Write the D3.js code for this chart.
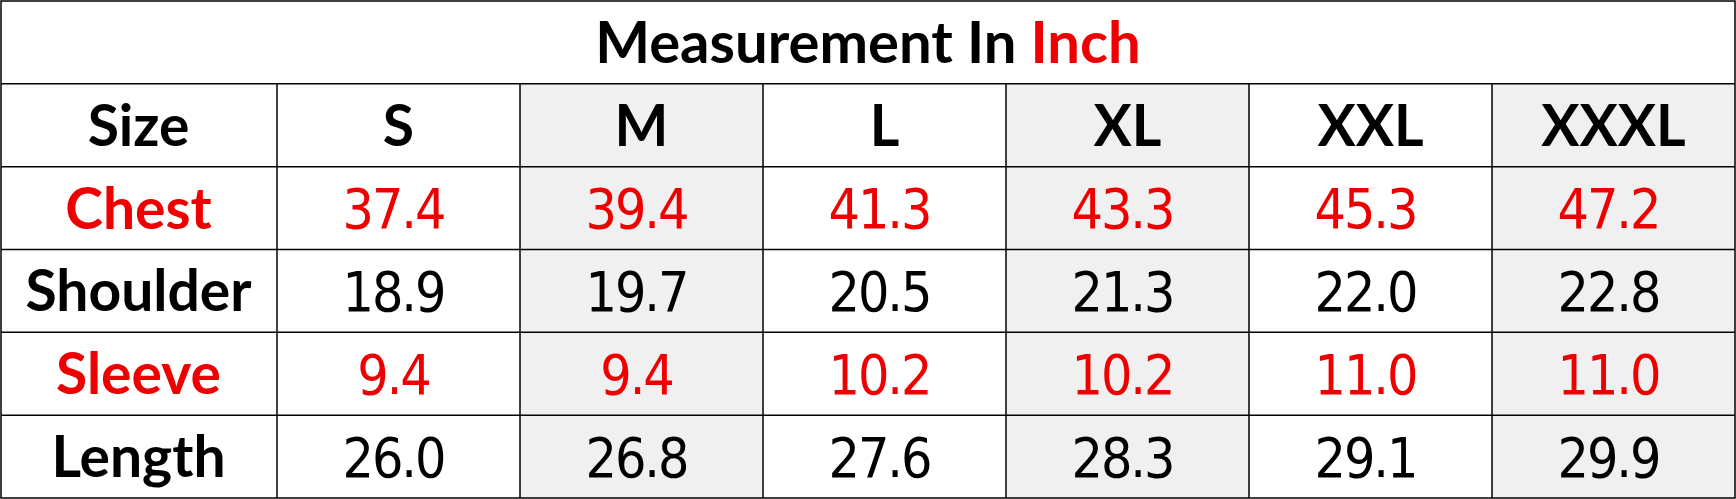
<!DOCTYPE html>
<html>
<head>
<meta charset="utf-8">
<script src="https://cdn.jsdelivr.net/npm/d3@7"></script>
<style>
body { margin: 0; background: #fff; }
</style>
</head>
<body>
<div id="table"></div>
<script>

var width = 1736, height = 499;

var sizes = ["S", "M", "L", "XL", "XXL", "XXXL"];
var measures = ["Chest", "Shoulder", "Sleeve", "Length"];
var chest = [37.4, 39.4, 41.3, 43.3, 45.3, 47.2];
var shoulder = [18.9, 19.7, 20.5, 21.3, 22.0, 22.8];
var sleeve = [9.4, 9.4, 10.2, 10.2, 11.0, 11.0];
var lengthVals = [26.0, 26.8, 27.6, 28.3, 29.1, 29.9];
var redRows = ["Chest", "Sleeve"];

var values = [chest, shoulder, sleeve, lengthVals];

var red = "#ee0000";
var labelFont = "Lato, 'Noto Sans', sans-serif";
var numFont = "'DejaVu Sans Condensed', 'DejaVu Sans', sans-serif";
var fmt = d3.format(".1f");

var svg = d3.select("#table")
	.append("svg")
	.attr("width", width)
	.attr("height", height)
	.style("display", "block");

// rows: title, header, then one per measure
var y = d3.scaleBand()
	.domain(["title", "Size"].concat(measures))
	.range([1, 498]);

var x = d3.scaleBand()
	.domain(sizes)
	.range([277, 1735]);

var bodyTop = y("Size");

// grey shading on every other size column
svg.selectAll(".shade")
	.data(sizes.filter(function(d, i) { return i % 2 == 1; }))
	.enter().append("rect")
	.attr("class", "shade")
	.attr("x", function(d) { return x(d); })
	.attr("y", bodyTop)
	.attr("width", x.bandwidth())
	.attr("height", 498 - bodyTop)
	.style("fill", "#f0f0f0");

// title
var title = svg.append("text")
	.attr("x", width / 2)
	.attr("y", y("title") + y.bandwidth() / 2 + 20.5)
	.attr("text-anchor", "middle")
	.style("font-family", labelFont)
	.style("font-weight", "bold")
	.style("font-size", "58px")
	.style("fill", "#000");
title.append("tspan").text("Measurement In ");
title.append("tspan").style("fill", red).text("Inch");

// header row
svg.append("text")
	.attr("x", 277 / 2)
	.attr("y", y("Size") + y.bandwidth() / 2 + 20.5)
	.attr("text-anchor", "middle")
	.style("font-family", labelFont)
	.style("font-weight", "bold")
	.style("font-size", "57px")
	.text("Size");

svg.selectAll(".head")
	.data(sizes)
	.enter().append("text")
	.attr("class", "head")
	.attr("x", function(d) { return x(d) + x.bandwidth() / 2; })
	.attr("y", y("Size") + y.bandwidth() / 2 + 20.5)
	.attr("text-anchor", "middle")
	.style("font-family", labelFont)
	.style("font-weight", "bold")
	.style("font-size", "57px")
	.text(function(d) { return d; });

// measure labels
svg.selectAll(".label")
	.data(measures)
	.enter().append("text")
	.attr("class", "label")
	.attr("x", 277 / 2)
	.attr("y", function(d) { return y(d) + y.bandwidth() / 2 + 20.5; })
	.attr("text-anchor", "middle")
	.style("font-family", labelFont)
	.style("font-weight", "bold")
	.style("font-size", "57px")
	.style("fill", function(d) { return redRows.indexOf(d) >= 0 ? red : "#000"; })
	.text(function(d) { return d; });

// values
var row = svg.selectAll(".row")
	.data(measures)
	.enter().append("g")
	.attr("class", "row");

row.selectAll(".val")
	.data(function(m, i) {
		return values[i].map(function(v, j) { return {m: m, size: sizes[j], v: v}; });
	})
	.enter().append("text")
	.attr("class", "val")
	.attr("x", function(d) { return x(d.size) + x.bandwidth() / 2 - 5; })
	.attr("y", function(d) { return y(d.m) + y.bandwidth() / 2 + 20; })
	.attr("text-anchor", "middle")
	.style("font-family", numFont)
	.style("font-size", "55px")
	.style("letter-spacing", "-2px")
	.style("fill", function(d) { return redRows.indexOf(d.m) >= 0 ? red : "#000"; })
	.text(function(d) { return fmt(d.v); });

// grid lines
var hLines = y.domain().slice(1);
svg.selectAll(".hline")
	.data(hLines)
	.enter().append("line")
	.attr("class", "hline")
	.attr("x1", 1)
	.attr("x2", 1735)
	.attr("y1", function(d) { return y(d); })
	.attr("y2", function(d) { return y(d); })
	.style("stroke", "#000")
	.style("stroke-width", 1.5);

svg.selectAll(".vline")
	.data(sizes)
	.enter().append("line")
	.attr("class", "vline")
	.attr("x1", function(d) { return x(d); })
	.attr("x2", function(d) { return x(d); })
	.attr("y1", bodyTop)
	.attr("y2", 498)
	.style("stroke", "#000")
	.style("stroke-width", 1.5);

svg.append("rect")
	.attr("x", 1)
	.attr("y", 1)
	.attr("width", 1734)
	.attr("height", 497)
	.style("fill", "none")
	.style("stroke", "#000")
	.style("stroke-width", 1.5);

</script>
</body>
</html>
